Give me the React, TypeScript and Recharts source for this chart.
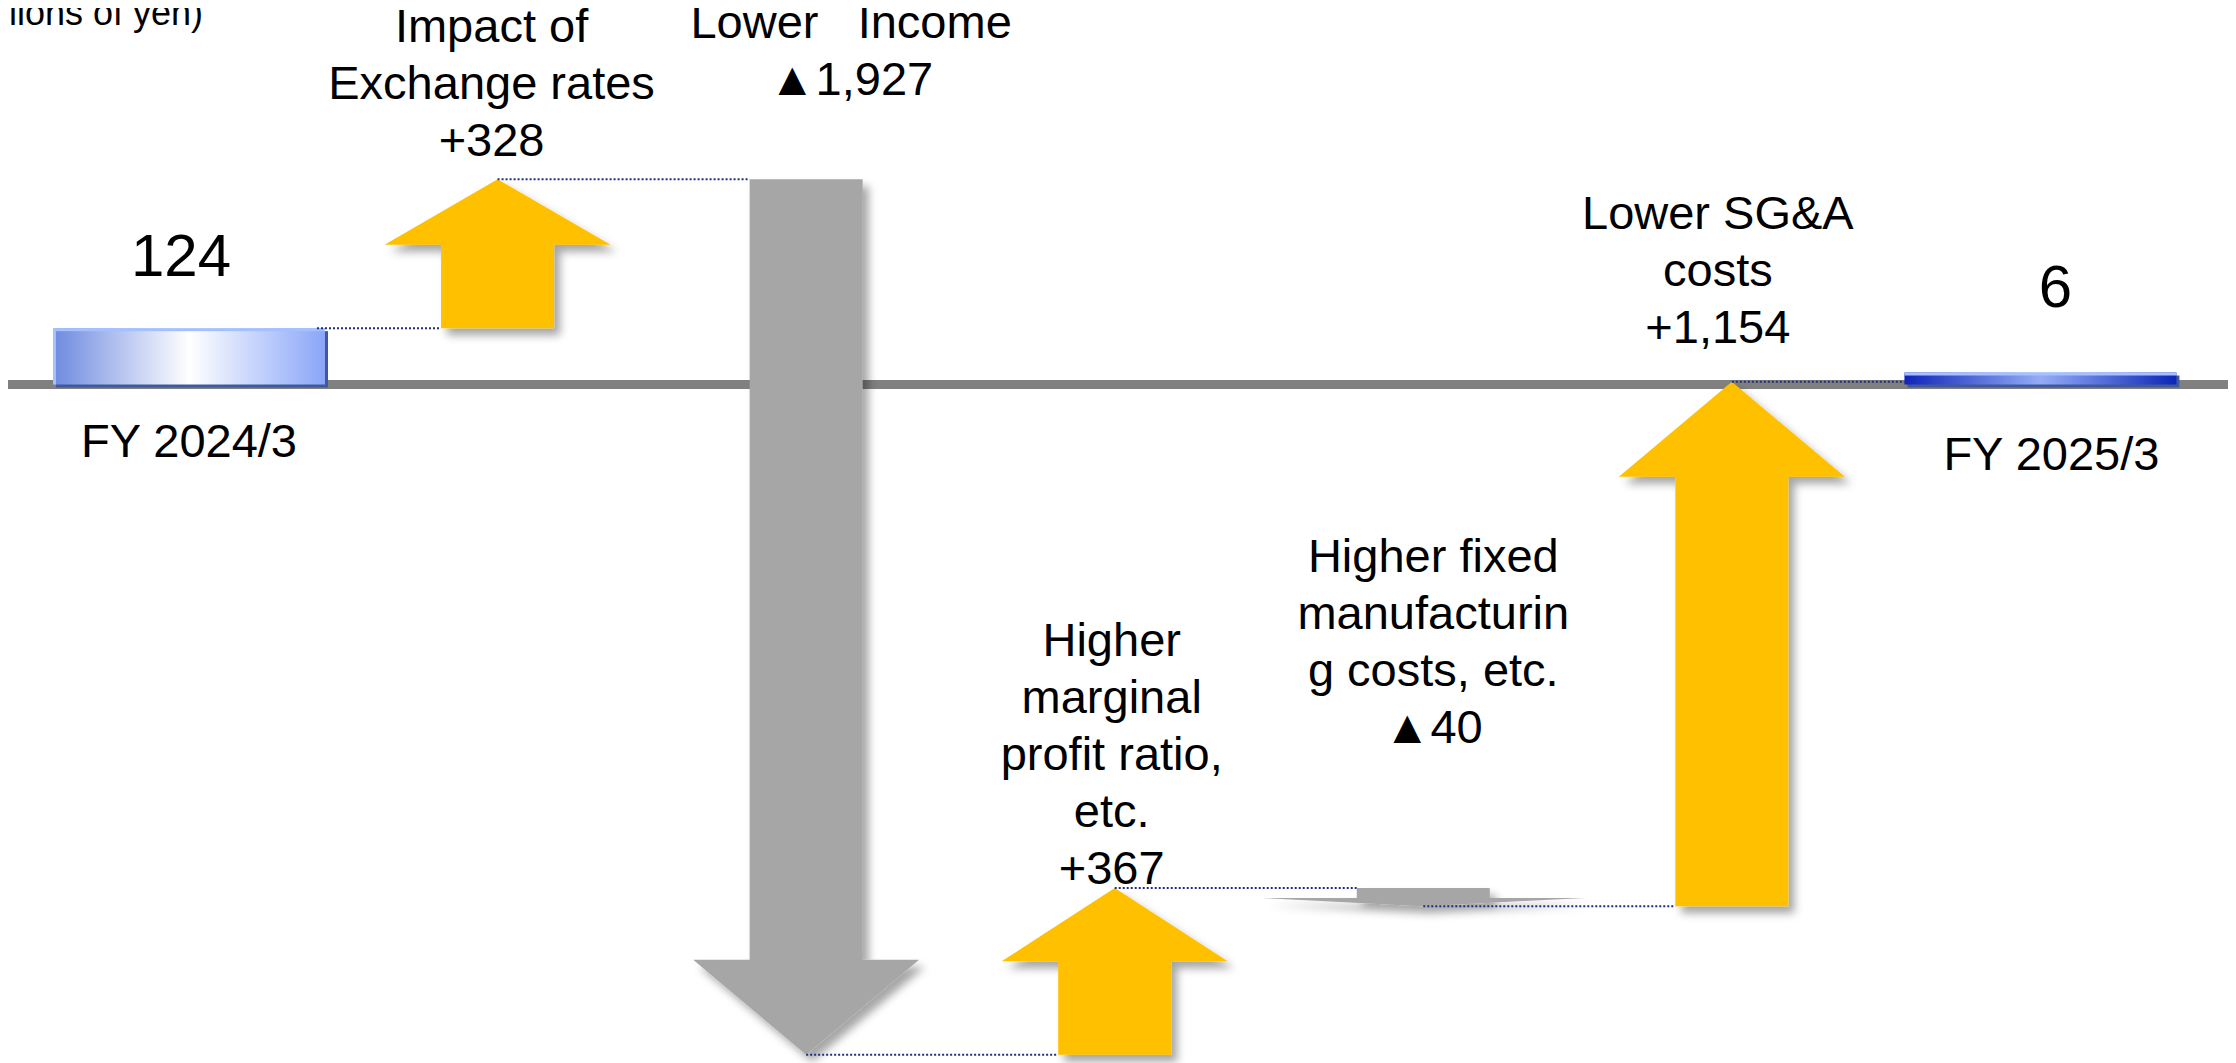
import React from "react";
import { BarChart, Bar, XAxis, YAxis } from "recharts";

// bridge of operating income, FY 2024/3 -> FY 2025/3
const categories = [
  "FY 2024/3",
  "Impact of\nExchange rates",
  "Lower   Income",
  "Higher\nmarginal\nprofit ratio,\netc.",
  "Higher fixed\nmanufacturin\ng costs, etc.",
  "Lower SG&A\ncosts",
  "FY 2025/3",
];
const amounts = [124, 328, -1927, 367, -40, 1154, 6];
const isTotal = [true, false, false, false, false, false, true];
const valueLabels = ["124", "+328", "▲1,927", "+367", "▲40", "+1,154", "6"];
const unitLabel = "(100 millions of yen)";

const W = 2236;
const H = 1063;
const PAD_L = 35;
const PAD_R = 41;
const STEP = (W - PAD_L - PAD_R) / categories.length;
const FONT = "'Liberation Sans', Arial, sans-serif";
const LINE = 57;

// label offsets (dx from bar centre, gap above the bar top)
const labelPos = [
  { dx: -8, gap: 52 },
  { dx: -6, gap: 23 },
  { dx: 45, gap: 84 },
  { dx: -3, gap: 4 },
  { dx: 10, gap: 145 },
  { dx: -14, gap: 39 },
  { dx: 15, gap: 66 },
];
const footPos = [72, 0, 0, 0, 0, 0, 85];

let run = 0;
const rows = categories.map((name, i) => {
  const amt = amounts[i];
  let start: number;
  let end: number;
  if (isTotal[i]) {
    start = 0;
    end = amt;
  } else {
    start = run;
    end = run + amt;
  }
  run = end;
  return {
    name,
    range: [Math.min(start, end), Math.max(start, end)],
    start,
    end,
    total: isTotal[i],
    label: valueLabels[i],
  };
});

const Defs = () => (
  <defs>
    <filter id="arrowShadow" filterUnits="userSpaceOnUse" x="0" y="0" width={W} height={H}>
      <feDropShadow dx="6" dy="7" stdDeviation="4" floodColor="#000" floodOpacity="0.35" />
    </filter>
    <linearGradient id="grad0" x1="0" y1="0" x2="1" y2="0">
      <stop offset="0" stopColor="#6E8AE0" />
      <stop offset="0.5" stopColor="#FFFFFF" />
      <stop offset="1" stopColor="#8AA6F8" />
    </linearGradient>
    <linearGradient id="grad6" x1="0" y1="0" x2="1" y2="0">
      <stop offset="0" stopColor="#1024B8" />
      <stop offset="0.5" stopColor="#94ACF6" />
      <stop offset="1" stopColor="#0C26B6" />
    </linearGradient>
  </defs>
);

const WaterfallShape = (props: any) => {
  const { x, y, width, height, index, payload } = props;
  const cx = x + width / 2;
  const top = y;
  const bottom = y + height;
  const up = payload.end >= payload.start;
  const pos = labelPos[index];
  const parts: React.ReactNode[] = [];

  if (index === 0) {
    parts.push(<Defs key="defs" />);
    // zero line, kept under every mark (bottom of the first bar is the 0 level)
    parts.push(<rect key="zero" x={0} y={bottom - 4.5} width={W} height={9} fill="#808080" />);
  }

  // shaft size of this mark, used by the dotted connector
  const len = bottom - top;
  const small = !payload.total && len < 30;
  const hw = small ? 323 : 226;
  const sw = small ? 133 : 113;
  const hh = small ? len * 0.45 : Math.min(95, len * 0.44);

  if (index > 0) {
    const prevTotal = rows[index - 1].total;
    const fromX = cx - STEP + (prevTotal ? width / 2 - 8 : 0);
    const toX = payload.total ? x : cx - sw / 2;
    const lvl = payload.total ? top : up ? bottom : top;
    parts.push(
      <line
        key="conn"
        x1={fromX}
        x2={toX}
        y1={lvl}
        y2={lvl}
        stroke="#1F2F80"
        strokeWidth={2}
        strokeDasharray="2 2"
      />
    );
  }

  if (payload.total) {
    const h = Math.max(height, 12);
    const t = bottom - h;
    parts.push(
      <g key="bar">
        <rect x={x + 3} y={t + 3} width={width} height={h} fill="#3F5A9C" />
        <rect x={x} y={t} width={width} height={h} fill={`url(#grad${index})`} />
        <rect x={x} y={t} width={width} height={3} fill="#A4C0FF" />
        {index === 0 && <rect x={x} y={t} width={3} height={h} fill="#A4C0FF" />}
      </g>
    );
    parts.push(
      <text key="val" x={cx + pos.dx} y={t - pos.gap} textAnchor="middle" fontSize={60} fontFamily={FONT} fill="#000">
        {payload.label}
      </text>
    );
    parts.push(
      <text key="cat" x={cx + (index === 0 ? 0 : 11)} y={bottom + footPos[index]} textAnchor="middle" fontSize={47} fontFamily={FONT} fill="#000">
        {payload.name}
      </text>
    );
  } else {
    const l = cx - sw / 2;
    const r = cx + sw / 2;
    let pts: number[][];
    if (up) {
      const n = top + hh;
      pts = [[l, bottom], [l, n], [cx - hw / 2, n], [cx, top], [cx + hw / 2, n], [r, n], [r, bottom]];
    } else {
      const n = bottom - hh;
      pts = [[l, top], [l, n], [cx - hw / 2, n], [cx, bottom], [cx + hw / 2, n], [r, n], [r, top]];
    }
    parts.push(
      <polygon
        key="arrow"
        points={pts.map((p) => p.join(",")).join(" ")}
        fill={up ? "#FFC000" : "#A6A6A6"}
        filter="url(#arrowShadow)"
      />
    );
    const lines = [...payload.name.split("\n"), payload.label];
    const last = top - pos.gap;
    lines.forEach((s: string, k: number) => {
      parts.push(
        <text
          key={`t${k}`}
          x={cx + pos.dx}
          y={last - (lines.length - 1 - k) * LINE}
          textAnchor="middle"
          fontSize={47}
          fontFamily={FONT}
          fill="#000"
          style={{ whiteSpace: "pre" }}
        >
          {s}
        </text>
      );
    });
  }

  return <g>{parts}</g>;
};

const App = () => {
  return (
    <div style={{ marginLeft: -8, marginTop: -8, width: W, height: H, background: "#fff" }}>
      <BarChart width={W} height={H} data={rows} margin={{ top: 21, right: 0, bottom: 6, left: 0 }} barSize={272}>
        <XAxis dataKey="name" hide padding={{ left: PAD_L, right: PAD_R }} />
        <YAxis hide domain={[-1480, 800]} />
        <Bar dataKey="range" isAnimationActive={false} shape={WaterfallShape} />
        <text x={203} y={25} textAnchor="end" fontSize={36} fontFamily={FONT} fill="#000">
          {unitLabel}
        </text>
      </BarChart>
    </div>
  );
};

export default App;
